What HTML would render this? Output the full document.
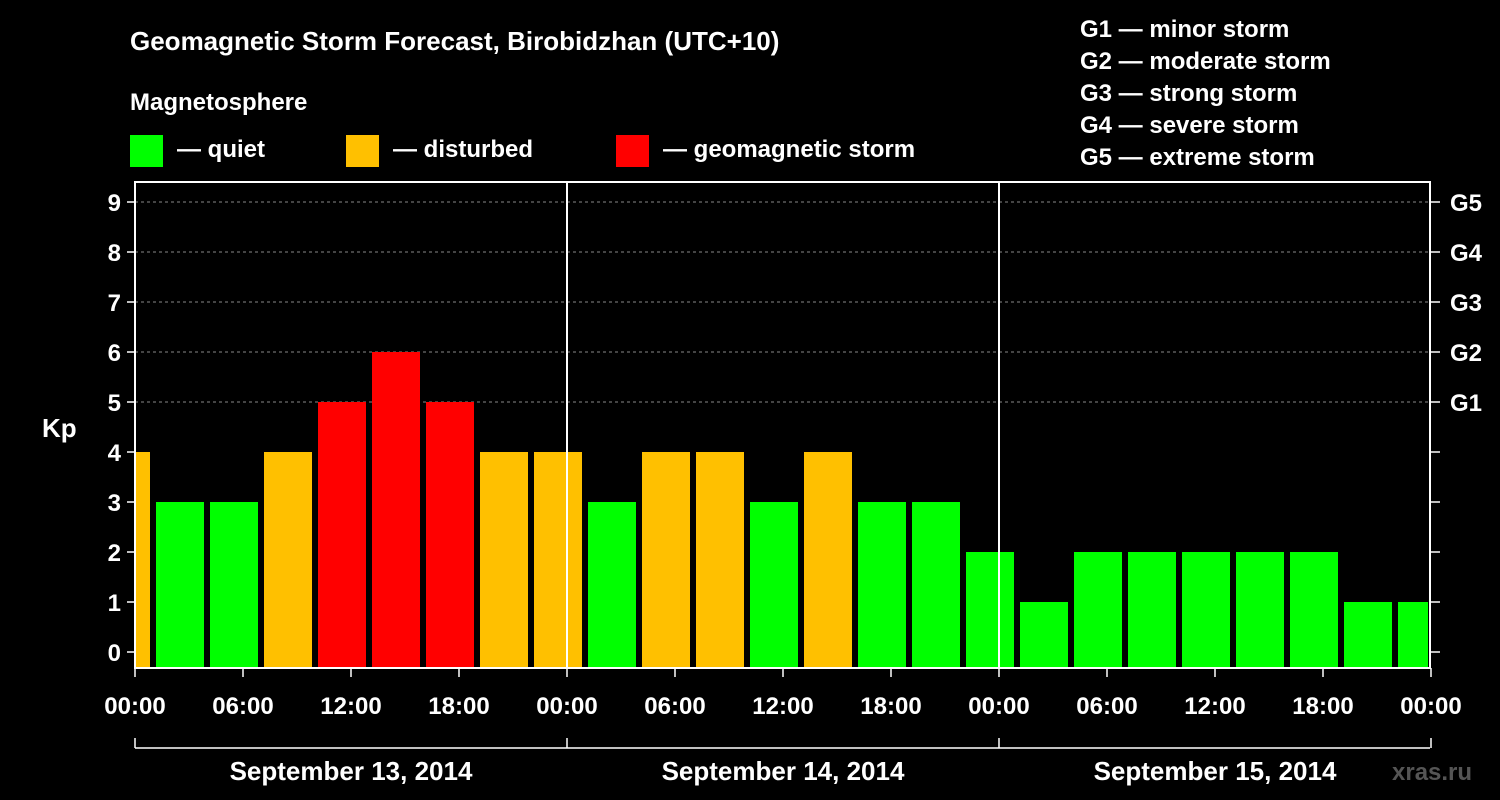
<!DOCTYPE html>
<html><head><meta charset="utf-8"><style>
body{margin:0;background:#000;width:1500px;height:800px;overflow:hidden}
svg{display:block;font-family:"Liberation Sans",Arial,sans-serif;font-weight:bold}
</style></head><body>
<svg id="c" width="1500" height="800">
<text x="130" y="50" fill="#fff" font-size="26">Geomagnetic Storm Forecast, Birobidzhan (UTC+10)</text>
<text x="130" y="110" fill="#fff" font-size="24">Magnetosphere</text>
<rect x="130" y="135" width="33" height="32" fill="#00ff00"/>
<text x="177" y="157" fill="#fff" font-size="24">— quiet</text>
<rect x="346" y="135" width="33" height="32" fill="#ffc000"/>
<text x="393" y="157" fill="#fff" font-size="24">— disturbed</text>
<rect x="616" y="135" width="33" height="32" fill="#ff0000"/>
<text x="663" y="157" fill="#fff" font-size="24">— geomagnetic storm</text>
<g fill="#fff" font-size="24">
<text x="1080" y="37">G1 — minor storm</text>
<text x="1080" y="69">G2 — moderate storm</text>
<text x="1080" y="101">G3 — strong storm</text>
<text x="1080" y="133">G4 — severe storm</text>
<text x="1080" y="165">G5 — extreme storm</text>
</g>
<text x="42" y="437" fill="#fff" font-size="26">Kp</text>
<text x="1392" y="780" fill="#555" font-size="24">xras.ru</text>
<g id="grid"></g><g id="bars"></g><g id="axes"></g>
</svg>
<script>
const kpValues=[4,3,3,4,5,6,5,4,4,3,4,4,3,4,3,3,2,1,2,2,2,2,2,1,1];
const yTicks=[0,1,2,3,4,5,6,7,8,9];
const gLabels=["","","","","","G1","G2","G3","G4","G5"];
const xTickLabels=["00:00","06:00","12:00","18:00","00:00","06:00","12:00","18:00","00:00","06:00","12:00","18:00","00:00"];
const dayLabels=["September 13, 2014","September 14, 2014","September 15, 2014"];
const L=135,R=1430,T=182,B=668,HPX=18;
const xh=h=>L+h*HPX;
const yk=k=>652-k*50;
const NS="http://www.w3.org/2000/svg";
function mk(p,tag,a){const e=document.createElementNS(NS,tag);for(const k in a)e.setAttribute(k,a[k]);p.appendChild(e);return e;}
const grid=document.getElementById('grid'),bars=document.getElementById('bars'),axes=document.getElementById('axes');
yTicks.forEach((k,i)=>{
 if(k>=5){const l=mk(grid,'line',{x1:L,x2:R,y1:yk(k),y2:yk(k),stroke:'#888','stroke-dasharray':'3,3'});
 
 }
 const t=mk(axes,'line',{x1:L-8,x2:L,y1:yk(k),y2:yk(k),stroke:'#fff','stroke-width':1.5});
 
 
 const t2=mk(axes,'line',{x1:R,x2:R+10,y1:yk(k),y2:yk(k),stroke:'#fff','stroke-width':1.5});
 
 
 const tx=mk(axes,'text',{x:L-14,y:yk(k)+9,fill:'#fff','font-size':24,'text-anchor':'end'});tx.textContent=k;
 
 
 if(gLabels[i]){const g=mk(axes,'text',{x:R+20,y:yk(k)+9,fill:'#fff','font-size':24});g.textContent=gLabels[i];
 
 }
});
kpValues.forEach((v,i)=>{
 let h0=-2+3*i,h1=h0+3;
 let x0=Math.max(xh(h0)+3,L),x1=Math.min(xh(h1)-3,R-2);
 const c=v>=5?'#ff0000':v>=4?'#ffc000':'#00ff00';
 const r=mk(bars,'rect',{x:x0,y:yk(v),width:x1-x0,height:B-yk(v),fill:c});
 
 
});
[24,48].forEach(h=>{const l=mk(axes,'line',{x1:xh(h),x2:xh(h),y1:T,y2:B,stroke:'#fff','stroke-width':2});
 
 });
const fr=mk(axes,'rect',{x:L,y:T,width:R-L,height:B-T,fill:'none',stroke:'#fff','stroke-width':2});


xTickLabels.forEach((s,i)=>{const x=xh(i*6);
 const t=mk(axes,'line',{x1:x,x2:x,y1:B,y2:B+9,stroke:'#fff','stroke-width':1.5});
 
 
 const tx=mk(axes,'text',{x:x,y:714,fill:'#fff','font-size':24,'text-anchor':'middle'});tx.textContent=s;
 
 });
const br=mk(axes,'line',{x1:L,x2:R,y1:748,y2:748,stroke:'#fff','stroke-width':1.5});


[0,24,48,72].forEach(h=>{const l=mk(axes,'line',{x1:xh(h),x2:xh(h),y1:738,y2:748,stroke:'#fff','stroke-width':1.5});
 
 });
dayLabels.forEach((s,i)=>{const tx=mk(axes,'text',{x:xh(i*24+12),y:780,fill:'#fff','font-size':26,'text-anchor':'middle'});tx.textContent=s;
 
 });
</script>
</body></html>
